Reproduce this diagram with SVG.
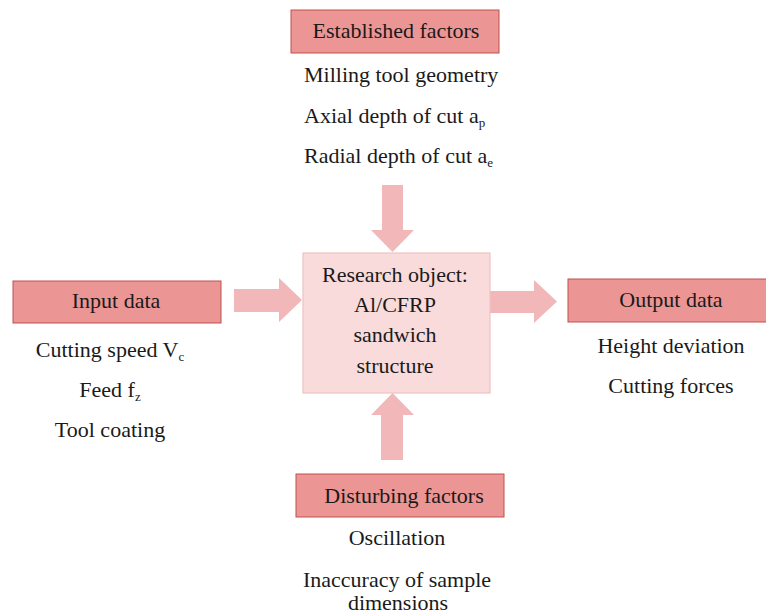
<svg xmlns="http://www.w3.org/2000/svg" width="766" height="616" viewBox="0 0 766 616">
<style>
text{font-family:'Liberation Serif','DejaVu Serif',serif;font-size:22px;fill:#1a1a1a}
.c{text-anchor:middle}
.hdr{fill:#ec9595;stroke:#c0504d;stroke-width:1}
.arrow{fill:#f2b7b8;stroke:none}
.obj{fill:#f9dbdb;stroke:#f0c2c2;stroke-width:1.2}
.sub{font-size:13px}
</style>
<rect width="766" height="616" fill="#ffffff"/>
<g id="connectors">
<polygon class="arrow" points="382,185 403,185 403,230 414,230 392.5,252 371,230 382,230"/>
<polygon class="arrow" points="381,460 403,460 403,415 414,415 392.5,393 371,415 381,415"/>
<polygon class="arrow" points="234,289 279,289 279,278 302,300 279,322 279,312 234,312"/>
<polygon class="arrow" points="490,291 534,291 534,280 557,301.5 534,323 534,313 490,313"/>
</g>
<g id="established">
<rect class="hdr" x="291" y="10" width="208" height="43"/>
<text class="c" x="396" y="38">Established factors</text>
<text x="304" y="82">Milling tool geometry</text>
<text x="304" y="123">Axial depth of cut a<tspan class="sub" dy="4">p</tspan></text>
<text x="304" y="163">Radial depth of cut a<tspan class="sub" dy="4">e</tspan></text>
</g>
<g id="input">
<rect class="hdr" x="13" y="281" width="208" height="42"/>
<text class="c" x="116" y="308">Input data</text>
<text class="c" x="110" y="357">Cutting speed V<tspan class="sub" dy="4">c</tspan></text>
<text class="c" x="110" y="397">Feed f<tspan class="sub" dy="4">z</tspan></text>
<text class="c" x="110" y="437">Tool coating</text>
</g>
<g id="research">
<rect class="obj" x="303" y="253" width="187" height="140"/>
<text class="c" x="395" y="282">Research object:</text>
<text class="c" x="395" y="312">Al/CFRP</text>
<text class="c" x="395" y="342">sandwich</text>
<text class="c" x="395" y="373">structure</text>
</g>
<g id="output">
<rect class="hdr" x="568" y="279" width="205" height="43"/>
<text class="c" x="671" y="307">Output data</text>
<text class="c" x="671" y="353">Height deviation</text>
<text class="c" x="671" y="393">Cutting forces</text>
</g>
<g id="disturbing">
<rect class="hdr" x="296" y="474" width="208" height="43"/>
<text class="c" x="404" y="503">Disturbing factors</text>
<text class="c" x="397" y="545">Oscillation</text>
<text class="c" x="397" y="587">Inaccuracy of sample</text>
<text class="c" x="398" y="610">dimensions</text>
</g>
</svg>
